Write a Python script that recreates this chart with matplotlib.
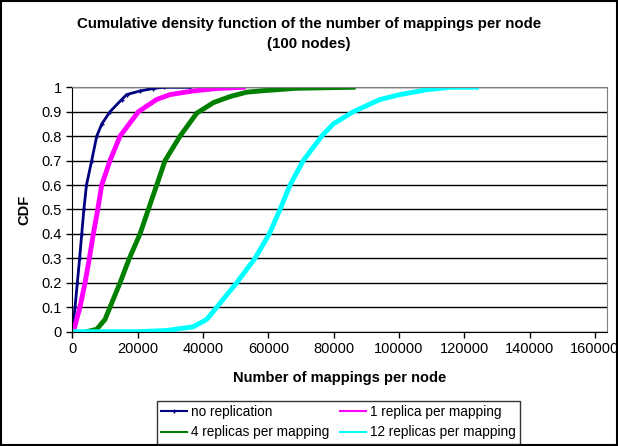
import matplotlib.pyplot as plt
from matplotlib.patches import Rectangle

plt.rcParams['font.family'] = ['Liberation Sans', 'DejaVu Sans']

# CDF levels and number of mappings
no_rep_x = [0, 800, 1500, 2200, 2850, 3500, 4300, 5900, 7440, 9000, 11500, 15100, 16600, 20700, 24700, 28000, 36000]
no_rep_y = [0, 0.1, 0.2, 0.3, 0.4, 0.5, 0.6, 0.7, 0.8, 0.85, 0.9, 0.95, 0.97, 0.985, 0.995, 1.0, 1.0]

rep1_x = [300, 2300, 3860, 5180, 6400, 7750, 8970, 11500, 14580, 20200, 25800, 29900, 37000, 44200, 52300]
rep1_y = [0, 0.1, 0.2, 0.3, 0.4, 0.5, 0.6, 0.7, 0.8, 0.9, 0.95, 0.97, 0.985, 0.995, 1.0]

rep4_x = [4380, 7440, 9980, 11500, 14580, 17430, 20700, 23250, 25820, 28370, 32950, 38070,
          43150, 48260, 53370, 58470, 68680, 86000]
rep4_y = [0, 0.01, 0.05, 0.1, 0.2, 0.3, 0.4, 0.5, 0.6, 0.7, 0.8, 0.894,
          0.937, 0.962, 0.98, 0.986, 0.996, 1.0]

rep12_x = [0, 20000, 28900, 37000, 41100, 44200, 50300, 55900, 60300, 63580, 66650, 70700, 76340,
           79900, 86000, 94200, 100300, 108500, 115600, 123800]
rep12_y = [0, 0, 0.005, 0.02, 0.05, 0.1, 0.2, 0.3, 0.4, 0.5, 0.6, 0.7, 0.8,
           0.85, 0.9, 0.95, 0.97, 0.99, 1.0, 1.0]

fig = plt.figure(figsize=(6.18, 4.46), dpi=100)
ax = fig.add_axes([0.1172, 0.2563, 0.8645, 0.548])

l0, = ax.plot(no_rep_x, no_rep_y, color='#000080', lw=2, marker='+', ms=3, label='no replication')
l1, = ax.plot(rep1_x, rep1_y, color='#ff00ff', lw=3.5, label='1 replica per mapping')
l4, = ax.plot(rep4_x, rep4_y, color='#008000', lw=3.5, label='4 replicas per mapping')
l12, = ax.plot(rep12_x, rep12_y, color='#00ffff', lw=3.5, label='12 replicas per mapping')

ax.set_xlim(0, 163640)
ax.set_ylim(0, 1)
ax.set_xticks(range(0, 160001, 20000))
ax.set_yticks([i / 10 for i in range(11)])
ax.set_yticklabels(['0', '0.1', '0.2', '0.3', '0.4', '0.5', '0.6', '0.7', '0.8', '0.9', '1'])
ax.tick_params(labelsize=10.5, direction='out', length=4, width=1)
ax.yaxis.grid(True, color='black', lw=1)
ax.set_axisbelow(True)
for s in ax.spines.values():
    s.set_color('#808080')
ax.spines['left'].set_color('black')
ax.spines['bottom'].set_color('black')

ax.set_xlabel('Number of mappings per node', fontsize=10.5, fontweight='bold')
ax.set_ylabel('CDF', fontsize=10.5, fontweight='bold')
ax.xaxis.set_label_coords(0.5, -0.161)
ax.yaxis.set_label_coords(-0.0775, 0.5)
fig.text(0.5, 0.946, 'Cumulative density function of the number of mappings per node',
         ha='center', va='center', fontsize=10.8, fontweight='bold')
fig.text(0.5, 0.901, '(100 nodes)', ha='center', va='center', fontsize=10.8, fontweight='bold')

leg = fig.legend([l0, l4, l1, l12], [l0.get_label(), l4.get_label(), l1.get_label(), l12.get_label()],
                 loc='center', bbox_to_anchor=(0.254, 0.0067, 0.586, 0.094), ncol=2, fontsize=9.8,
                 frameon=True, fancybox=False, edgecolor='black', handlelength=1.9,
                 columnspacing=0.8, borderpad=0.3, labelspacing=0.5, handletextpad=0.3,
                 borderaxespad=0)
leg.get_frame().set_linewidth(1)
for h in leg.legend_handles:
    h.set_linewidth(1.5)

fig.patches.append(Rectangle((0.002, 0.002), 0.996, 0.996, transform=fig.transFigure,
                             fill=False, edgecolor='black', lw=1.5))

fig.savefig('out.png', dpi=100)
